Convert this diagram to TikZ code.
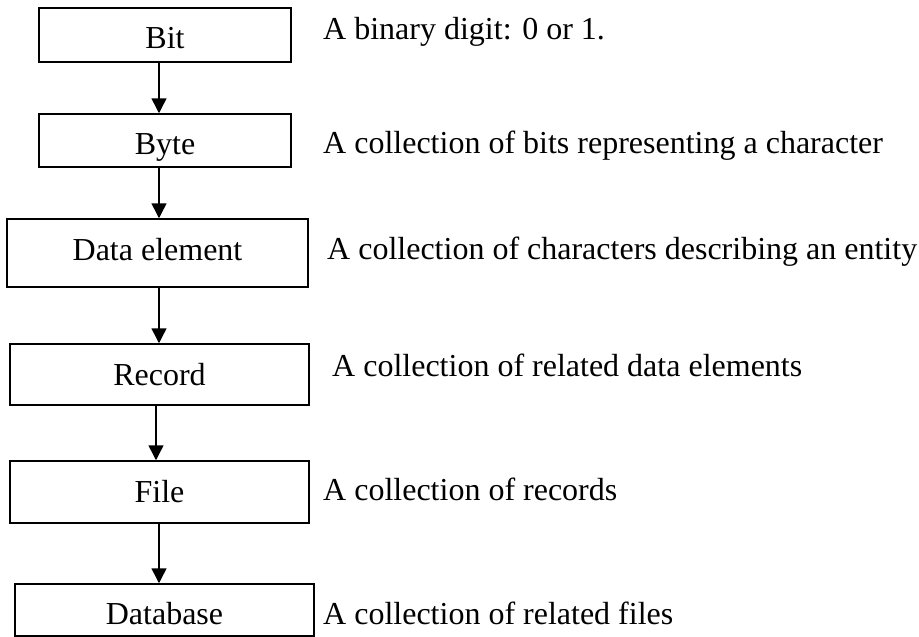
\documentclass[tikz,border=0pt]{standalone}
\usepackage{fontspec}
\setmainfont{Liberation Serif}
\usetikzlibrary{arrows.meta}
\begin{document}
\begin{tikzpicture}[x=1pt,y=-1pt,
  every node/.style={font=\fontsize{32}{36}\selectfont},
  box/.style={draw,line width=1.5pt,inner sep=0pt,align=center},
  desc/.style={anchor=base west,inner sep=0pt},
  arr/.style={line width=1.5pt,-{Triangle[width=15pt,length=15pt]}}]
\useasboundingbox (0,0) rectangle (919,637);
% boxes
\node[box,minimum width=252pt,minimum height=54pt,text height=33pt,text depth=7pt] (bit) at (165,35) {Bit};
\node[box,minimum width=252pt,minimum height=53pt,text height=33.5pt,text depth=6.5pt] (byte) at (165,140.5) {Byte};
\node[box,minimum width=301pt,minimum height=68pt,text height=27pt,text depth=13pt] (data) at (157.5,253) {Data element};
\node[box,minimum width=299pt,minimum height=61pt,text height=30.5pt,text depth=9.5pt] (rec) at (159.5,374.5) {Record};
\node[box,minimum width=299pt,minimum height=62pt,text height=30pt,text depth=10pt] (file) at (159.5,492) {File};
\node[box,minimum width=299pt,minimum height=52pt,text height=34pt,text depth=6pt] (db) at (164.5,610) {Database};
% descriptions
\node[desc] (t1) at (323,39) {A binary digit: 0 or 1.};
\node[desc] (t2) at (323,153) {A collection of bits representing a character};
\node[desc] (t3) at (327,259) {A collection of characters describing an entity};
\node[desc] (t4) at (332,376) {A collection of related data elements};
\node[desc] (t5) at (323,500) {A collection of records};
\node[desc] (t6) at (323,624) {A collection of related files};
% arrows
\coordinate (ax) at (159,0);
\coordinate (ay) at (156,0);
\draw[arr] (bit.south -| ax) -- (byte.north -| ax);
\draw[arr] (byte.south -| ax) -- (data.north -| ax);
\draw[arr] (data.south -| ax) -- (rec.north -| ax);
\draw[arr] (rec.south -| ay) -- (file.north -| ay);
\draw[arr] (file.south -| ax) -- (db.north -| ax);
\end{tikzpicture}
\end{document}
